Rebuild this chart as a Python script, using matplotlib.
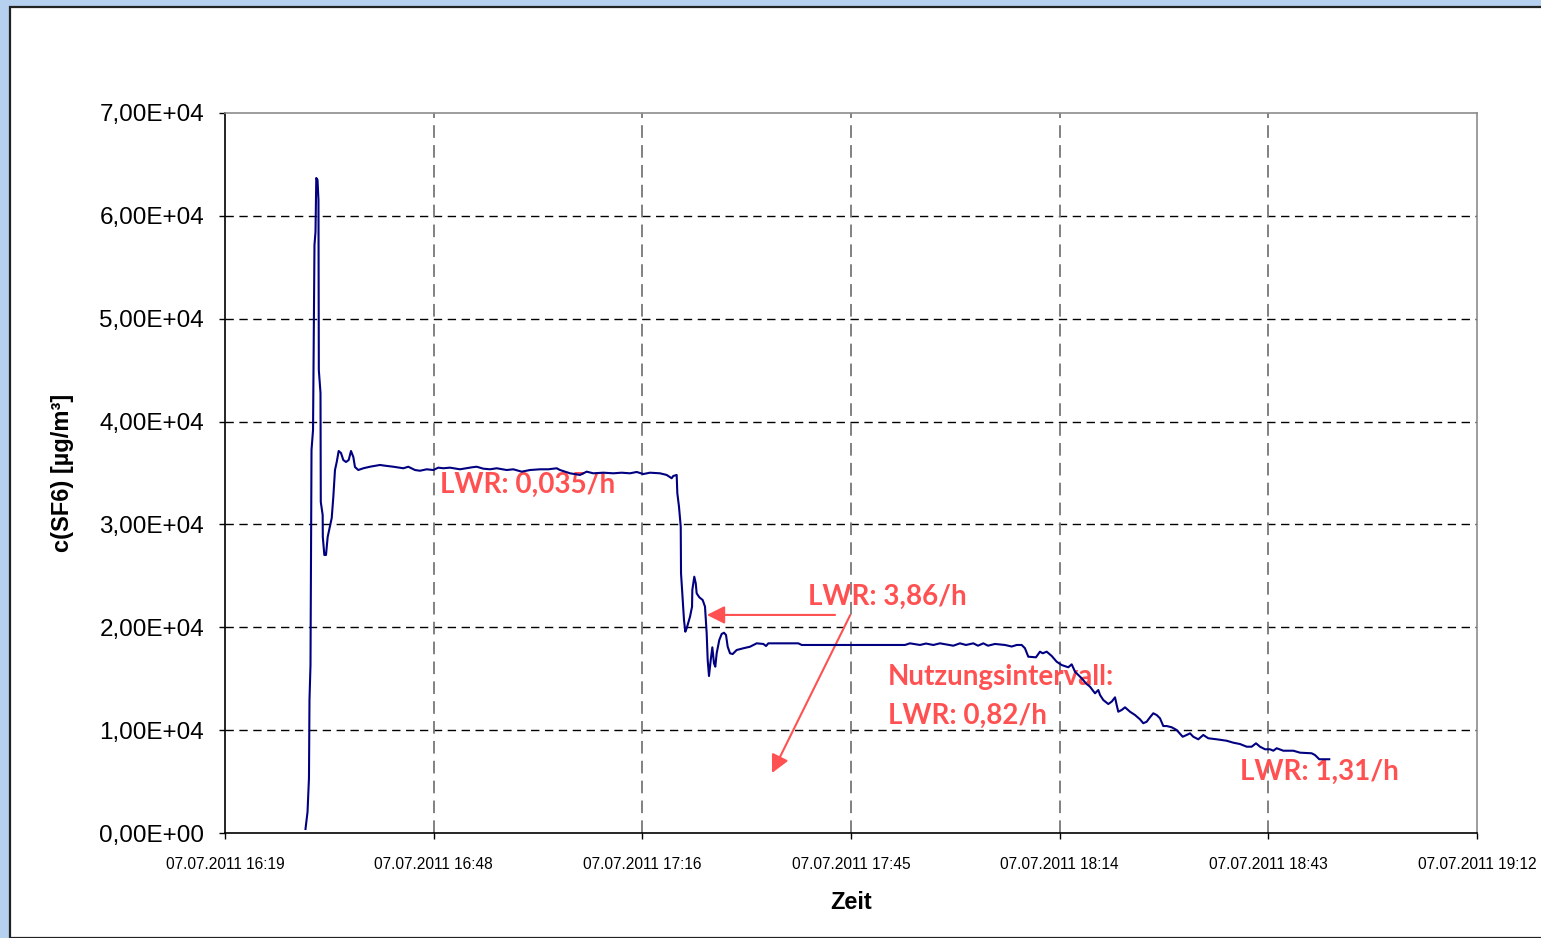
import matplotlib
matplotlib.use("Agg")
import matplotlib.pyplot as plt
from matplotlib.patches import Rectangle

# Measurement time in minutes after 16:00 on 07.07.2011
t_min = [
    30.31, 30.45, 30.59, 30.79, 30.86, 31.00, 31.14, 31.35, 31.55, 31.69,
    31.80, 31.97, 32.10, 32.15, 32.38, 32.42, 32.68, 32.70, 32.91, 33.14,
    33.37, 33.93, 34.15, 34.38, 34.62, 34.89, 35.21, 35.53, 35.90, 36.27,
    36.59, 36.91, 37.14, 37.60, 38.29, 39.21, 40.59, 41.28, 42.43, 43.81,
    44.50, 45.42, 46.11, 47.04, 47.95, 48.64, 49.33, 50.25, 51.63, 53.25,
    53.94, 54.85, 55.77, 56.70, 58.08, 58.99, 60.15, 61.30, 62.68, 63.82,
    64.98, 65.44, 66.82, 68.20, 69.12, 70.03, 71.41, 72.79, 73.95, 75.10,
    76.02, 76.93, 77.86, 79.24, 80.16, 80.85, 81.07, 81.54, 81.63, 81.86,
    82.10, 82.14, 82.37, 82.55, 82.73, 82.92, 83.38, 83.66, 83.70, 83.97,
    84.17, 84.30, 84.66, 85.13, 85.45, 85.68, 85.77, 85.82, 86.00, 86.24,
    86.46, 86.69, 86.87, 87.06, 87.42, 87.75, 88.07, 88.35, 88.58, 88.90,
    89.27, 89.82, 90.74, 91.66, 92.58, 93.50, 93.87, 94.19, 98.33, 98.80,
    113.05, 113.74, 115.12, 115.95, 116.96, 117.88, 119.72, 120.64, 121.47, 122.48,
    123.13, 123.86, 124.51, 125.47, 126.85, 127.78, 128.47, 129.16, 129.61, 130.07,
    131.13, 131.68, 132.06, 132.61, 133.30, 133.99, 134.68, 135.59, 136.06, 136.52,
    136.97, 137.44, 138.03, 138.59, 139.28, 139.73, 139.97, 140.42, 141.11, 141.58,
    142.04, 142.27, 142.49, 142.96, 143.42, 144.11, 144.80, 145.49, 145.94, 146.41,
    146.87, 147.32, 147.79, 148.25, 148.70, 149.17, 149.86, 150.55, 151.38, 151.93,
    152.39, 152.84, 153.53, 154.22, 154.91, 156.07, 157.45, 158.37, 159.29, 160.21,
    160.90, 161.50, 162.05, 162.74, 163.43, 163.89, 164.35, 165.27, 166.65, 167.57,
    169.18, 169.64, 170.23, 171.61,
]

# SF6 concentration in µg/m³
c_sf6 = [
    390, 1260, 2040, 5350, 12930, 16330, 37240, 39180, 57170, 58430,
    63680, 63490, 61540, 45010, 42780, 32180, 30920, 28780, 27030, 27030,
    28780, 30630, 32670, 35290, 36070, 37140, 36940, 36260, 36070, 36260,
    37140, 36560, 35580, 35290, 35460, 35610, 35780, 35710, 35610, 35460,
    35610, 35290, 35220, 35360, 35290, 35520, 35460, 35520, 35360, 35550,
    35610, 35420, 35360, 35460, 35290, 35360, 35130, 35290, 35360, 35360,
    35460, 35290, 34970, 34810, 35130, 34970, 35030, 34970, 35030, 34970,
    35100, 34900, 35030, 34970, 34810, 34490, 34710, 34810, 33030, 31720,
    29780, 25250, 22650, 20710, 19570, 19900, 21030, 22000, 23630, 24920,
    24280, 23300, 22920, 22650, 22000, 19420, 17630, 16820, 15260, 16820,
    18050, 16500, 16170, 17470, 18760, 19350, 19470, 19250, 18110, 17470,
    17400, 17790, 17960, 18110, 18440, 18380, 18180, 18440, 18440, 18280,
    18280, 18440, 18280, 18420, 18280, 18440, 18210, 18440, 18280, 18440,
    18210, 18440, 18210, 18380, 18280, 18130, 18280, 18280, 17960, 17140,
    17080, 17630, 17470, 17630, 17210, 16650, 16330, 16110, 16400, 15680,
    15360, 15040, 14550, 14220, 13580, 13900, 13420, 12930, 12540, 12770,
    13190, 12440, 11790, 11960, 12220, 11790, 11470, 11050, 10670, 10820,
    11250, 11640, 11470, 11150, 10400, 10400, 10280, 10010, 9360, 9530,
    9690, 9360, 9110, 9530, 9210, 9110, 8970, 8780, 8650, 8390,
    8390, 8720, 8390, 8140, 8140, 8000, 8240, 8000, 8000, 7810,
    7750, 7580, 7170, 7170,
]

x_ticks = [19.2, 48.0, 76.8, 105.6, 134.4, 163.2, 192.0]
x_tick_labels = [
    "07.07.2011 16:19", "07.07.2011 16:48", "07.07.2011 17:16",
    "07.07.2011 17:45", "07.07.2011 18:14", "07.07.2011 18:43",
    "07.07.2011 19:12",
]
y_ticks = [0, 10000, 20000, 30000, 40000, 50000, 60000, 70000]
y_tick_labels = ["0,00E+00", "1,00E+04", "2,00E+04", "3,00E+04",
                 "4,00E+04", "5,00E+04", "6,00E+04", "7,00E+04"]

# Air exchange rate notes: (text, left x in minutes, centre y in µg/m³)
notes = [
    ("LWR: 0,035/h", 48.9, 33800),
    ("LWR: 3,86/h", 99.7, 22950),
    ("Nutzungsintervall:", 110.7, 15170),
    ("LWR: 0,82/h", 110.7, 11380),
    ("LWR: 1,31/h", 159.3, 5930),
]

W, H = 1541, 938
fig = plt.figure(figsize=(W / 100, H / 100), dpi=100)
fig.patch.set_facecolor("#B6D0F0")

# White chart sheet with dark border, behind everything
sheet = Rectangle((10 / W, 0), 1.2, (H - 7) / H, transform=fig.transFigure,
                  facecolor="white", edgecolor="#222222", lw=1.6, zorder=-10)
fig.patches.append(sheet)

ax = fig.add_axes([225 / W, (H - 833) / H, (1477 - 225) / W, 720 / H])
ax.set_zorder(1)
ax.set_facecolor("white")

sans = ["Liberation Sans", "DejaVu Sans"]
red = "#FF5151"

ax.plot(t_min, c_sf6, color="#000080", lw=1.5, zorder=5)

ax.set_xlim(x_ticks[0], x_ticks[-1])
ax.set_ylim(0, 70000)
ax.set_xticks(x_ticks)
ax.set_xticklabels(x_tick_labels, fontsize=11.2, family=sans)
ax.set_yticks(y_ticks)
ax.set_yticklabels(y_tick_labels, fontsize=17.5, family=sans)
ax.tick_params(axis="both", direction="out", length=4, width=1, color="black")
ax.tick_params(axis="x", pad=13)
ax.tick_params(axis="y", pad=11)

for v in y_ticks[1:-1]:
    ax.axhline(v, color="black", lw=1, ls=(0, (6, 4)), zorder=1)
for t in x_ticks[1:-1]:
    ax.axvline(t, color="#777777", lw=1.3, ls=(0, (7, 4)), zorder=1)

ax.spines["left"].set_color("black")
ax.spines["bottom"].set_color("black")
ax.spines["top"].set_color("#8C8C8C")
ax.spines["right"].set_color("#8C8C8C")
for s in ax.spines.values():
    s.set_linewidth(1.2)

ax.set_xlabel("Zeit", fontsize=17, fontweight="bold", family=sans, labelpad=14)
ax.set_ylabel("c(SF6) [µg/m³]", fontsize=17, fontweight="bold", family=sans, labelpad=18)

for txt, tx, ty in notes:
    ax.text(tx, ty, txt, color=red, fontsize=20, fontweight="bold", family=["Lato", "DejaVu Sans"],
            ha="left", va="center", zorder=3)

arrow = dict(arrowstyle="-|>,head_length=0.6,head_width=0.3", color=red, lw=1.5,
             mutation_scale=18, shrinkA=0, shrinkB=0)
ax.annotate("", xy=(85.7, 21200), xytext=(103.4, 21200), arrowprops=arrow, zorder=4)
ax.annotate("", xy=(94.7, 5830), xytext=(105.5, 21200), arrowprops=arrow, zorder=4)

fig.savefig("out.png", dpi=100, facecolor=fig.get_facecolor())
